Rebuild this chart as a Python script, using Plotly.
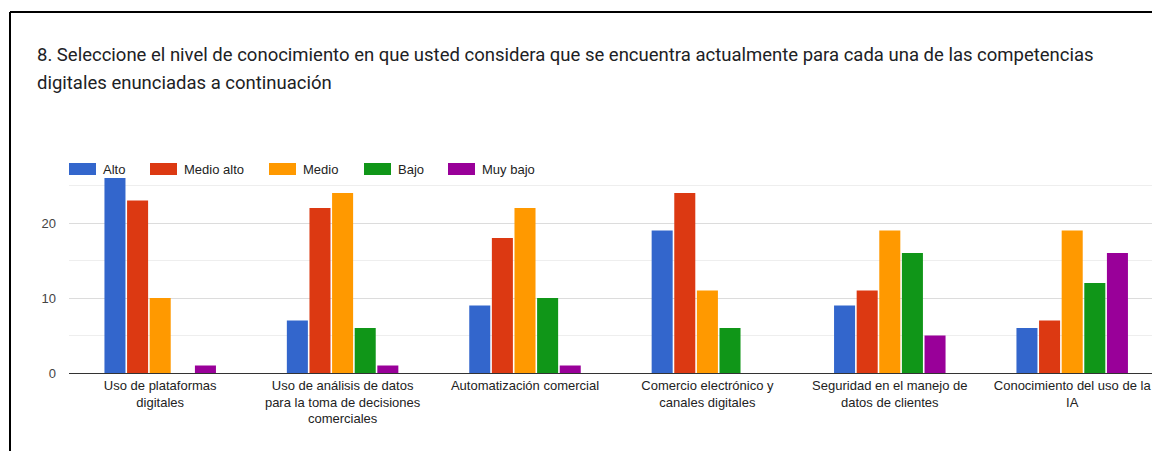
import plotly.graph_objects as go

# ---- data -------------------------------------------------------------
categories = [
    "Uso de plataformas<br>digitales",
    "Uso de análisis de datos<br>para la toma de decisiones<br>comerciales",
    "Automatización comercial",
    "Comercio electrónico y<br>canales digitales",
    "Seguridad en el manejo de<br>datos de clientes",
    "Conocimiento del uso de la<br>IA",
]
series_names = ["Alto", "Medio alto", "Medio", "Bajo", "Muy bajo"]
alto = [26, 7, 9, 19, 9, 6]
medio_alto = [23, 22, 18, 24, 11, 7]
medio = [10, 24, 22, 11, 19, 19]
bajo = [0, 6, 10, 6, 16, 12]
muy_bajo = [1, 1, 1, 0, 5, 16]
y_tick_vals = [0, 10, 20]
y_tick_text = ["0", "10", "20"]

title_lines = [
    "8. Seleccione el nivel de conocimiento en que usted considera que se encuentra "
    "actualmente para cada una de las competencias",
    "digitales enunciadas a continuación",
]

# ---- styling ----------------------------------------------------------
colors = ["#3366cc", "#dc3912", "#ff9900", "#109618", "#990099"]
W, H = 1152, 451
M_L, M_R, M_T, M_B = 69, 0, 174, 78
PLOT_W = W - M_L - M_R
PLOT_H = H - M_T - M_B
PX_PER_UNIT = 7.5
CAT_STEP = 182.4
CHART_FONT = "Liberation Sans, Arial, sans-serif"


def px_x(px):
    return (px - M_L) / PLOT_W


def px_y(py):
    return (H - M_B - py) / PLOT_H


fig = go.Figure()
for name, vals, col in zip(series_names, [alto, medio_alto, medio, bajo, muy_bajo], colors):
    fig.add_trace(go.Bar(
        name=name, x=categories, y=vals, marker=dict(color=col, line=dict(width=0)),
        showlegend=False,
    ))

shapes = []
annotations = []

# custom legend row: wide colour swatches followed by labels
legend_x = [69, 150, 269, 364, 448]
for name, col, lx in zip(series_names, colors, legend_x):
    shapes.append(dict(type="rect", xref="paper", yref="paper",
                       x0=px_x(lx), x1=px_x(lx + 27), y0=px_y(175), y1=px_y(163),
                       fillcolor=col, line=dict(width=0)))
    annotations.append(dict(text=name, xref="paper", yref="paper", x=px_x(lx + 32), y=px_y(170),
                            xanchor="left", yanchor="middle", showarrow=False,
                            font=dict(family=CHART_FONT, size=13, color="#222222")))

# title, two lines
for line, cy in zip(title_lines, [55, 83]):
    annotations.append(dict(text=line, xref="paper", yref="paper", x=px_x(35), y=px_y(cy),
                            xanchor="left", yanchor="middle", showarrow=False,
                            font=dict(family="Roboto, sans-serif", size=18.5, color="#202124")))

# card frame (left and top edges)
shapes.append(dict(type="line", xref="paper", yref="paper",
                   x0=px_x(10), x1=px_x(10), y0=px_y(H + 5), y1=px_y(12),
                   line=dict(color="#000000", width=2)))
shapes.append(dict(type="line", xref="paper", yref="paper",
                   x0=px_x(10), x1=px_x(W + 5), y0=px_y(12), y1=px_y(12),
                   line=dict(color="#000000", width=2)))

fig.update_layout(
    width=W, height=H,
    margin=dict(l=M_L, r=M_R, t=M_T, b=M_B, pad=0),
    paper_bgcolor="white", plot_bgcolor="white",
    barmode="group", bargap=0.38, bargroupgap=0.07,
    shapes=shapes, annotations=annotations,
    font=dict(family=CHART_FONT),
)
fig.update_xaxes(
    range=[-0.5, -0.5 + PLOT_W / CAT_STEP],
    tickangle=0, automargin=False, showgrid=False, ticks="",
    showline=True, linecolor="#333333", linewidth=1,
    tickfont=dict(family=CHART_FONT, size=13, color="#222222"),
)
fig.update_yaxes(
    range=[0, PLOT_H / PX_PER_UNIT],
    tickvals=y_tick_vals, ticktext=y_tick_text,
    showgrid=True, gridcolor="#dcdcdc", gridwidth=1,
    minor=dict(dtick=5, showgrid=True, gridcolor="#eeeeee", gridwidth=1),
    zeroline=True, zerolinecolor="#333333", zerolinewidth=1,
    automargin=False, ticks="", ticklabelstandoff=12,
    tickfont=dict(family=CHART_FONT, size=13, color="#444444"),
)

fig.write_html("out.html")
